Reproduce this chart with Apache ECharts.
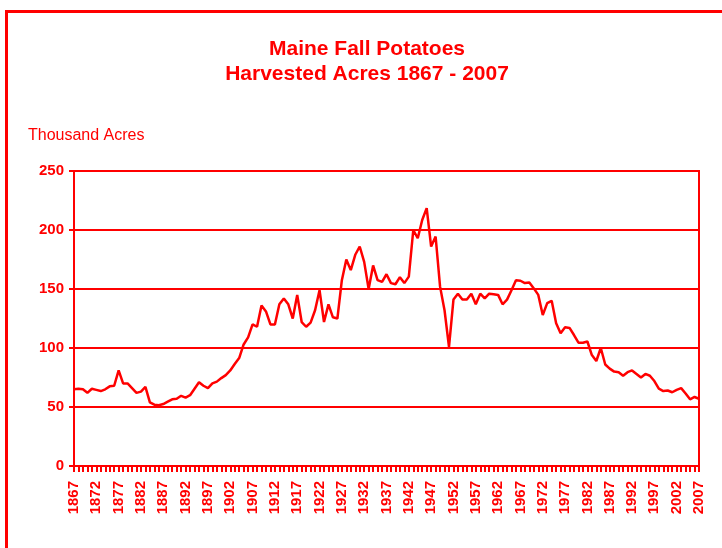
<!DOCTYPE html>
<html>
<head>
<meta charset="utf-8">
<script src="https://cdn.jsdelivr.net/npm/echarts@6/dist/echarts.min.js"></script>
<style>
html,body{margin:0;padding:0;background:#fff;}
#chart{width:722px;height:548px;}
</style>
</head>
<body>
<div id="chart"></div>
<script>
var firstYear = 1867;
var lastYear = 2007;
var acres = [
  65,65.5,65,62,65.5,64.5,63.5,65,67.5,68,
  81,70,70,66,62,63,67,54,52,51.5,
  52.5,54.5,56.5,57,59.5,58,60,65.5,71,68,
  66,70,71.5,74.5,77,81,86.5,91.5,103,109,
  120,118,136,131,120,120,137,142,137,125,
  145,122,118,121.5,132,149,122,137,126,125,
  157.5,175,166,179,186,173,150,170,157.5,156,
  162.5,155,154,160,155,160.5,200,193,208.5,218.5,
  186,194.5,152,132,101,141,146,141,141,146,
  137,146,142,146,145.5,145,137,141,149,157.5,
  157,155,155.5,150.5,145,128,138,140,121,112.5,
  117.5,117,111,104.5,104.5,105.5,94,89,100,86,
  82.5,80,79.5,76.5,79.5,81,78,75,78,76.5,
  72,65.5,63.5,64,62.5,64.5,66,61.5,56.5,58.5,
  57
];
var years = [];
for (var y = firstYear; y <= lastYear; y++) years.push(String(y));
var yMin = 0, yMax = 250, yStep = 50;
var titleText = 'Maine Fall Potatoes\nHarvested Acres 1867 - 2007';
var unitText = 'Thousand Acres';

var RED = '#ff0000';
var FONT = '"Liberation Sans", Arial, sans-serif';

var chart = echarts.init(document.getElementById('chart'), null, {renderer: 'canvas'});
chart.setOption({
  backgroundColor: '#ffffff',
  animation: false,
  title: {
    text: titleText,
    left: 367,
    textAlign: 'center',
    top: 37,
    padding: 0,
    textStyle: {color: RED, fontSize: 21, fontWeight: 'bold', fontFamily: FONT, lineHeight: 25}
  },
  graphic: [
    {type: 'rect', shape: {x: 6.5, y: 11.5, width: 900, height: 900}, style: {fill: 'none', stroke: RED, lineWidth: 3}, silent: true},
    {type: 'text', left: 28, top: 128, style: {text: unitText, fill: RED, font: '16px ' + FONT}}
  ],
  grid: {left: 74, right: 23, top: 171, bottom: 82, show: true, borderColor: RED, borderWidth: 2, containLabel: false},
  xAxis: {
    type: 'category',
    data: years,
    boundaryGap: false,
    axisLine: {lineStyle: {color: RED, width: 2}},
    axisTick: {show: true, interval: 0, length: 6, lineStyle: {color: RED, width: 2}},
    axisLabel: {interval: 4, rotate: 90, color: RED, fontWeight: 'bold', fontSize: 15, fontFamily: FONT, margin: 15},
    splitLine: {show: false}
  },
  yAxis: {
    type: 'value',
    min: yMin, max: yMax, interval: yStep,
    axisLine: {show: true, lineStyle: {color: RED, width: 2}},
    axisTick: {show: true, length: 5, lineStyle: {color: RED, width: 2}},
    axisLabel: {color: RED, fontWeight: 'bold', fontSize: 15, fontFamily: FONT, margin: 10},
    splitLine: {show: true, lineStyle: {color: RED, width: 2}}
  },
  series: [{
    type: 'line',
    data: acres,
    symbol: 'none',
    lineStyle: {color: RED, width: 2.5},
    itemStyle: {color: RED}
  }]
});
</script>
</body>
</html>
